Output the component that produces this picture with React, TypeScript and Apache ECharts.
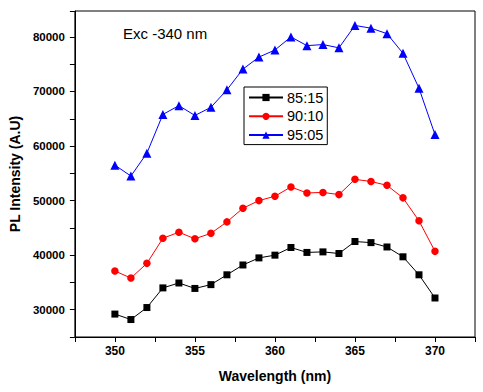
import React, { useEffect, useRef } from "react";
import * as echarts from "echarts";

const wavelengths = [350, 351, 352, 353, 354, 355, 356, 357, 358, 359, 360, 361, 362, 363, 364, 365, 366, 367, 368, 369, 370];
const s8515 = [29200, 28200, 30400, 34000, 34900, 33900, 34600, 36400, 38200, 39500, 40000, 41400, 40500, 40600, 40300, 42500, 42300, 41500, 39700, 36400, 32150];
const s9010 = [37100, 35800, 38500, 43100, 44200, 43000, 44000, 46100, 48600, 50000, 50800, 52500, 51400, 51500, 51100, 53900, 53500, 52800, 50500, 46300, 40700];
const s9505 = [56500, 54500, 58700, 65800, 67400, 65600, 67100, 70300, 74100, 76300, 77600, 80000, 78400, 78600, 78000, 82100, 81600, 80600, 77000, 70600, 62100];
const seriesNames = ["85:15", "90:10", "95:05"];

const FONT = "'Liberation Sans', Arial, sans-serif";

function pairs(ys: number[]) {
  return wavelengths.map((x, i) => [x, ys[i]]);
}

export default function App() {
  const ref = useRef<HTMLDivElement>(null);
  useEffect(() => {
    document.body.style.margin = "0";
    if (!ref.current) return;
    const chart = echarts.init(ref.current, null, { renderer: "svg" });
    chart.setOption({
      animation: false,
      backgroundColor: "#fff",
      grid: {
        left: 73,
        right: 8,
        top: 11,
        bottom: 55,
        show: true,
        borderColor: "#000",
        borderWidth: 1,
      },
      xAxis: {
        type: "value",
        min: 347.5,
        max: 372.5,
        interval: 2.5,
        name: "Wavelength (nm)",
        nameLocation: "middle",
        nameGap: 32,
        nameTextStyle: { fontFamily: FONT, fontSize: 14, fontWeight: "bold", color: "#000" },
        axisLine: { show: true, lineStyle: { color: "#000", width: 1 } },
        axisTick: { show: true, inside: false, length: 5, lineStyle: { color: "#000" } },
        splitLine: { show: false },
        axisLabel: {
          margin: 8,
          fontFamily: FONT,
          fontSize: 12,
          fontWeight: "bold",
          color: "#000",
          formatter: (v: number) => (Math.abs(v % 5) < 1e-6 ? String(v) : ""),
        },
      },
      yAxis: {
        type: "value",
        min: 25000,
        max: 84750,
        interval: 5000,
        name: "PL Intensity (A.U)",
        nameLocation: "middle",
        nameGap: 50,
        nameTextStyle: { fontFamily: FONT, fontSize: 14, fontWeight: "bold", color: "#000" },
        axisLine: { show: true, lineStyle: { color: "#000", width: 1 } },
        axisTick: { show: true, inside: false, length: 5, lineStyle: { color: "#000" } },
        splitLine: { show: false },
        axisLabel: {
          margin: 10,
          fontFamily: FONT,
          fontSize: 11.5,
          fontWeight: "bold",
          color: "#000",
          formatter: (v: number) => (v % 10000 === 0 ? String(v) : ""),
        },
      },
      legend: {
        left: 244,
        top: 87,
        orient: "vertical",
        borderColor: "#000",
        borderWidth: 1,
        padding: [3, 4, 2, 4],
        itemWidth: 34,
        itemHeight: 9,
        itemGap: 3.8,
        textStyle: { fontFamily: FONT, fontSize: 14.5, color: "#000", padding: [0, 0, 0, -1] },
        data: seriesNames,
      },
      graphic: [
        {
          type: "text",
          left: 123,
          top: 26,
          style: { text: "Exc -340 nm", fontFamily: FONT, fontSize: 15, fill: "#000" },
        },
      ],
      series: [
        {
          name: seriesNames[0],
          type: "line",
          data: pairs(s8515),
          symbol: "rect",
          symbolSize: 7,
          lineStyle: { color: "#000", width: 1 },
          itemStyle: { color: "#000" },
        },
        {
          name: seriesNames[1],
          type: "line",
          data: pairs(s9010),
          symbol: "circle",
          symbolSize: 7.5,
          lineStyle: { color: "#ff0000", width: 1 },
          itemStyle: { color: "#ff0000" },
        },
        {
          name: seriesNames[2],
          type: "line",
          data: pairs(s9505),
          symbol: "triangle",
          symbolSize: 9,
          lineStyle: { color: "#0000ff", width: 1 },
          itemStyle: { color: "#0000ff" },
        },
      ],
    });
    return () => chart.dispose();
  }, []);
  return <div ref={ref} style={{ width: 483, height: 392 }} />;
}
